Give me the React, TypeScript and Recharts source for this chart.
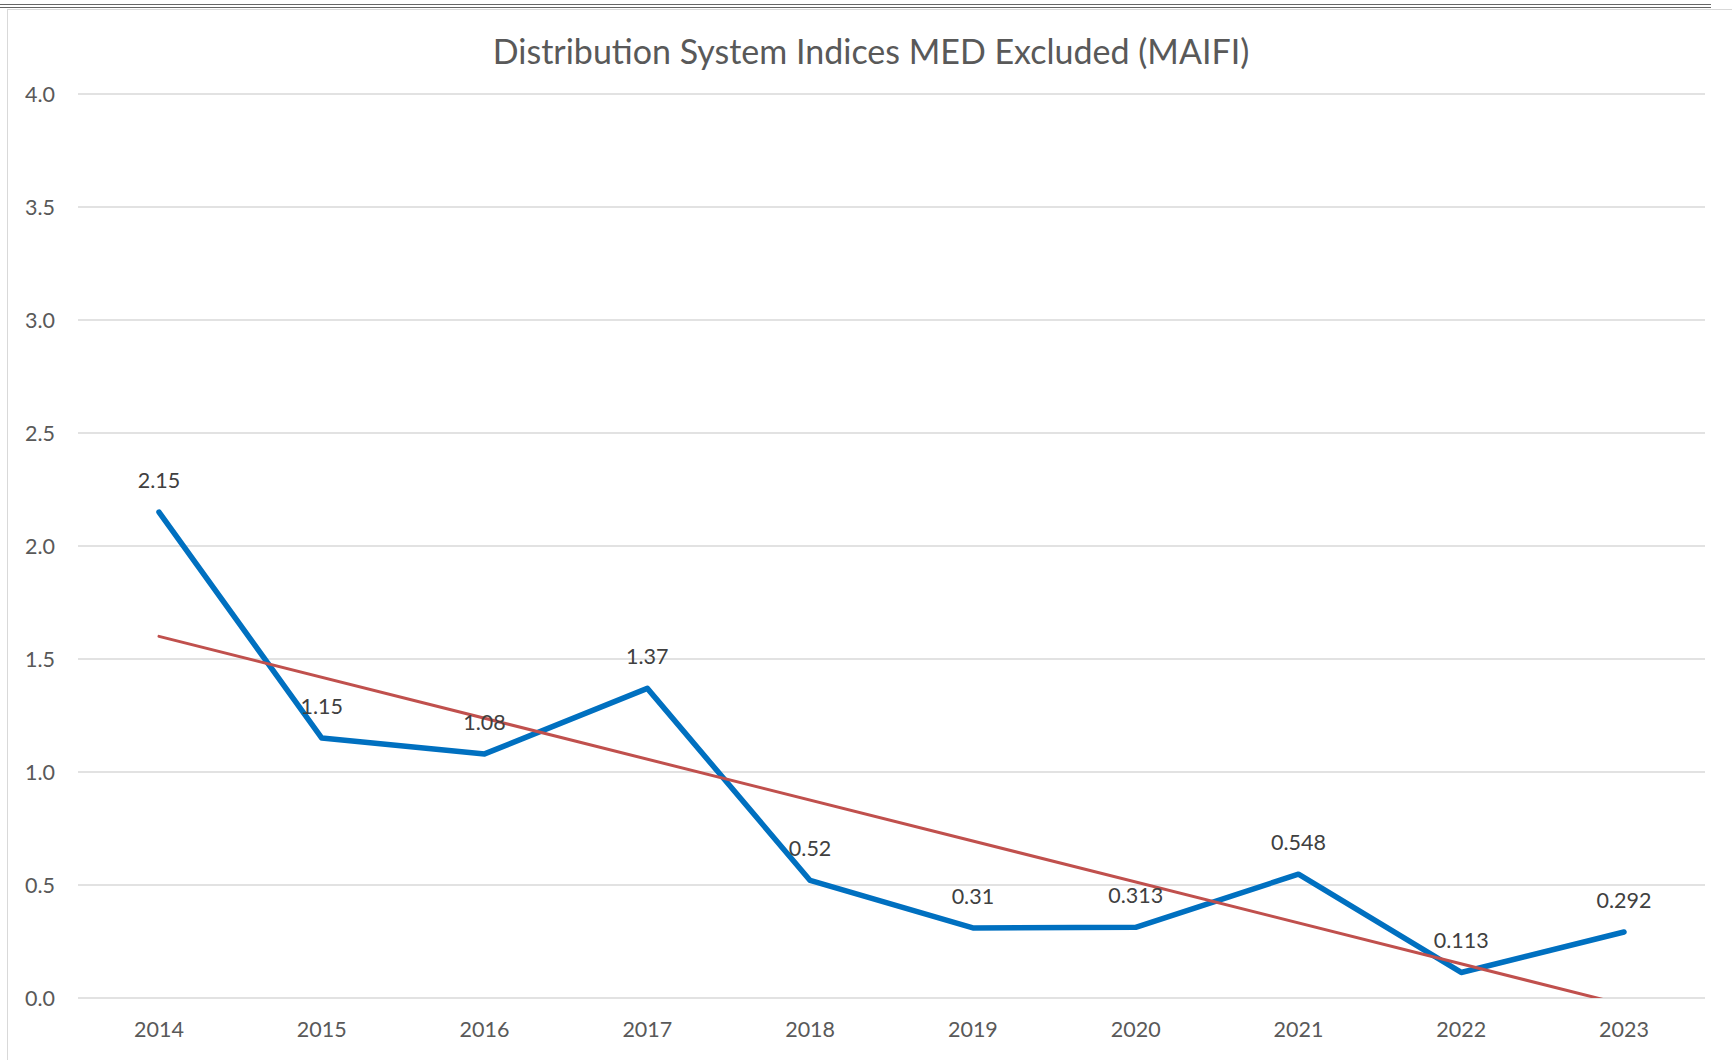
import React from "react";
import { LineChart, Line, XAxis, YAxis, CartesianGrid, LabelList } from "recharts";

const years = ["2014", "2015", "2016", "2017", "2018", "2019", "2020", "2021", "2022", "2023"];
const maifi = [2.15, 1.15, 1.08, 1.37, 0.52, 0.31, 0.313, 0.548, 0.113, 0.292];
// linear trendline as drawn in the picture: start and end only
const trend = [1.6, null, null, null, null, null, null, null, null, -0.03];
const yTicks = [0, 0.5, 1, 1.5, 2, 2.5, 3, 3.5, 4];

const data = years.map((year, i) => ({ year, maifi: maifi[i], trend: trend[i] }));

const FONT = "Lato, 'Noto Sans', sans-serif";

function ValueLabel(props: any) {
  const { x, y, value } = props;
  return (
    <text
      x={x}
      y={y - 32}
      textAnchor="middle"
      dominantBaseline="central"
      fill="#404040"
      fontSize={21.5}
      fontFamily={FONT}
    >
      {value}
    </text>
  );
}

export default function App() {
  return (
    <div style={{ position: "absolute", left: 0, top: 0, width: 1732, height: 1060, background: "#fff", overflow: "hidden" }}>
      <div style={{ position: "absolute", left: 0, top: 4, width: 1711, height: 1, background: "#666" }} />
      <div style={{ position: "absolute", left: 0, top: 7, width: 1711, height: 1, background: "#666" }} />
      <div
        style={{
          position: "absolute",
          left: 7,
          top: 9,
          width: 1740,
          height: 1100,
          border: "1px solid #d9d9d9",
        }}
      />
      <div
        style={{
          position: "absolute",
          left: 0,
          top: 31,
          width: 1742,
          textAlign: "center",
          fontFamily: FONT,
          fontSize: 34,
          color: "#595959",
          lineHeight: "40px",
        }}
      >
        Distribution System Indices MED Excluded (MAIFI)
      </div>
      <div style={{ position: "absolute", left: 0, top: 0 }}>
        <LineChart width={1732} height={1060} data={data} margin={{ top: 94, right: 27, bottom: 22, left: 18 }}>
          <CartesianGrid vertical={false} stroke="#d9d9d9" strokeWidth={1.5} />
          <XAxis
            dataKey="year"
            axisLine={false}
            tickLine={false}
            tickSize={0}
            tickMargin={24}
            height={40}
            padding={{ left: 81, right: 81 }}
            tick={{ fill: "#595959", fontSize: 21.5, fontFamily: FONT }}
          />
          <YAxis
            domain={[0, 4]}
            ticks={yTicks}
            allowDataOverflow
            axisLine={false}
            tickLine={false}
            tickSize={0}
            tickMargin={23}
            width={60}
            tickFormatter={(v: number) => v.toFixed(1)}
            tick={{ fill: "#595959", fontSize: 21.5, fontFamily: FONT }}
          />
          <Line
            type="linear"
            dataKey="maifi"
            stroke="#0070c0"
            strokeWidth={5.5}
            strokeLinecap="round"
            strokeLinejoin="round"
            dot={false}
            activeDot={false}
            isAnimationActive={false}
          >
            <LabelList dataKey="maifi" content={ValueLabel} />
          </Line>
          <Line
            type="linear"
            dataKey="trend"
            stroke="#c0504d"
            strokeWidth={3}
            strokeLinecap="round"
            connectNulls
            dot={false}
            activeDot={false}
            isAnimationActive={false}
          />
        </LineChart>
      </div>
    </div>
  );
}
